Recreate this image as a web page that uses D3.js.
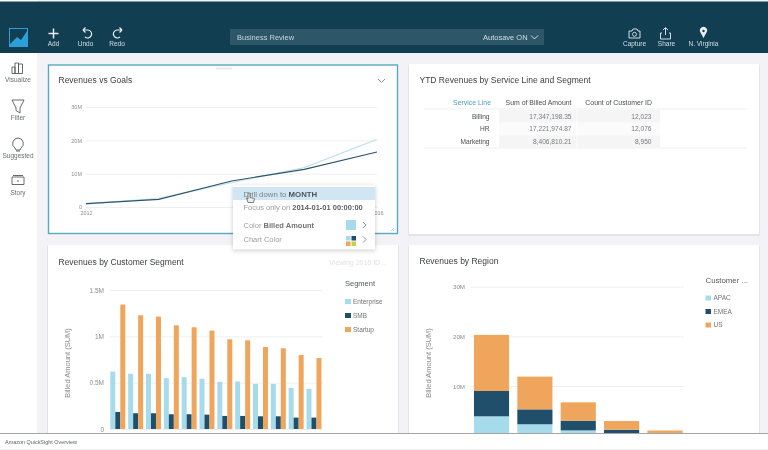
<!DOCTYPE html>
<html>
<head>
<meta charset="utf-8">
<script src="https://d3js.org/d3.v7.min.js"></script>
<style>
  html, body { margin: 0; padding: 0; background: #fff; overflow: hidden; }
  svg { display: block; filter: blur(0.5px); }
  text { font-family: "Liberation Sans", Arial, sans-serif; }
  .domain { display: none; }
</style>
</head>
<body>
<svg id="canvas" width="768" height="450"></svg>
<script>

/**
 * Data
 */

var lineYears = [2012, 2013, 2014, 2015, 2016];
var billedAmount = [1.0, 2.3, 7.8, 11.3, 16.5];
var goalAmount = [0.9, 2.6, 7.3, 11.8, 20.3];

var segmentMonths = ['Jan', 'Feb', 'Mar', 'Apr', 'May', 'Jun', 'Jul', 'Aug', 'Sep', 'Oct', 'Nov', 'Dec'];
var segmentNames = ['Enterprise', 'SMB', 'Startup'];
var enterpriseValues = [0.62, 0.596, 0.596, 0.549, 0.56, 0.542, 0.509, 0.513, 0.487, 0.487, 0.444, 0.433];
var smbValues = [0.184, 0.17, 0.17, 0.159, 0.159, 0.155, 0.141, 0.141, 0.137, 0.137, 0.123, 0.123];
var startupValues = [1.343, 1.227, 1.213, 1.119, 1.098, 1.062, 0.968, 0.957, 0.885, 0.871, 0.798, 0.766];

var regionBars = ['A', 'B', 'C', 'D', 'E'];
var regionNames = ['APAC', 'EMEA', 'US'];
var apacValues = [3.9, 2.3, 1.07, 0.3, 0.05];
var emeaValues = [5.1, 3.0, 1.95, 0.9, 0.1];
var usValues = [11.3, 6.6, 3.7, 1.75, 0.9];

var tableHeader = ['Service Line', 'Sum of Billed Amount', 'Count of Customer ID'];
var serviceLines = ['Billing', 'HR', 'Marketing'];
var billedSums = ['17,347,198.35', '17,221,974.87', '8,406,810.21'];
var customerCounts = ['12,023', '12,076', '8,950'];

var LIGHT = '#a6dbec', DARK = '#1f4f6b', ORANGE = '#f0a55c';
var INK = '#3c4043', GREY = '#8a8d90';

var svg = d3.select('#canvas');

function label(parent, x, y, str, size, color, anchor, weight) {
  return parent.append('text')
    .attr('x', x).attr('y', y)
    .attr('font-size', size)
    .attr('fill', color)
    .attr('text-anchor', anchor || 'start')
    .attr('font-weight', weight || 'normal')
    .text(str);
}

function panel(x, y, w, h) {
  svg.append('rect').attr('x', x - 1).attr('y', y + 1).attr('width', w + 2).attr('height', h + 1).attr('fill', '#e3e4e8');
  svg.append('rect').attr('x', x).attr('y', y).attr('width', w).attr('height', h).attr('fill', '#fff');
}

// y axis with only the faint gridlines and the labels
function gridAxis(g, scale, x0, x1, values, fmt, size, pad) {
  var axis = d3.axisLeft(scale).tickValues(values).tickFormat(fmt).tickSize(x0 - x1).tickPadding(pad);
  var a = g.append('g').attr('transform', 'translate(' + x0 + ',0)').call(axis);
  a.selectAll('line').attr('stroke', '#eeeff1');
  a.selectAll('text').attr('font-size', size).attr('fill', GREY).attr('font-family', '"Liberation Sans", Arial, sans-serif');
  return a;
}

/* page background and chrome */

svg.append('rect').attr('width', 768).attr('height', 450).attr('fill', '#f3f3f7');
svg.append('rect').attr('width', 37).attr('height', 450).attr('fill', '#fff');
svg.append('rect').attr('width', 768).attr('height', 51.5).attr('y', 1.5).attr('fill', '#123e52');

// logo
svg.append('rect').attr('x', 9).attr('y', 28).attr('width', 19).attr('height', 19).attr('fill', '#2b9fd8');
svg.append('path').attr('d', 'M10 44L17 37L21 40L27 31V29H10Z').attr('fill', '#123e52');

var topBar = svg.append('g');
function icon(d) {
  return topBar.append('path').attr('d', d).attr('fill', 'none').attr('stroke', '#e8eef1').attr('stroke-width', 1.2);
}
icon('M53.5 28.5V38.5M48.5 33.5H58.5').attr('stroke-width', 1.5);
icon('M83 30H88A4 4 0 1 1 85 37M83 30L85.5 27.5M83 30L85.5 32.5');
icon('M122 30H117A4 4 0 1 0 120 37M122 30L119.5 27.5M122 30L119.5 32.5');
icon('M629 31H632L633 29H637L638 31H640V38H629Z').attr('stroke-width', 0.9);
topBar.append('circle').attr('cx', 634.5).attr('cy', 34.3).attr('r', 2).attr('fill', 'none').attr('stroke', '#e8eef1').attr('stroke-width', 0.8);
icon('M662 33H660.5V39H670.5V33H669M665.5 35V28M663 30L665.5 27.5L668 30').attr('stroke-width', 0.9);
topBar.append('path').attr('d', 'M703.5 38L700.5 32.5A3.6 3.6 0 1 1 706.5 32.5Z').attr('fill', '#e8eef1');
topBar.append('circle').attr('cx', 703.5).attr('cy', 31).attr('r', 1.2).attr('fill', '#123e52');

[[53.5, 'Add'], [85.5, 'Undo'], [117, 'Redo'], [634.5, 'Capture'], [666.5, 'Share'], [703.5, 'N. Virginia']].forEach(function (d) {
  label(topBar, d[0], 46, d[1], 6.5, '#d5dfe4', 'middle');
});

topBar.append('rect').attr('x', 230).attr('y', 29).attr('width', 314).attr('height', 16).attr('fill', '#2d5668');
label(topBar, 237, 40, 'Business Review', 7.5, '#c9d5db');
label(topBar, 483, 40, 'Autosave ON', 7.5, '#d5dfe4');
icon('M531 35.5L534.5 39L538 35.5').attr('stroke-width', 0.9);

// side menu
var side = svg.append('g');
function sideIcon(d) {
  return side.append('path').attr('d', d).attr('fill', 'none').attr('stroke', '#55595c').attr('stroke-width', 0.9);
}
sideIcon('M12 73.5H15V67H12ZM15 73.5H18.5V63H15ZM18.5 73.5H22.5V64H18.5Z');
sideIcon('M12 100H24L20 108V113L16 110.5V108Z');
sideIcon('M18 138A5.5 5.5 0 0 1 21 148L20 150H16L15 148A5.5 5.5 0 0 1 18 138ZM16 151H20');
sideIcon('M12 177H24V184.5H12ZM13 175.5H23');
side.append('circle').attr('cx', 18).attr('cy', 181).attr('r', 0.8).attr('fill', '#55595c');
[[18, 82, 'Visualize'], [18, 120, 'Filter'], [18, 157.5, 'Suggested'], [18, 195, 'Story']].forEach(function (d) {
  label(side, d[0], d[1], d[2], 6.5, '#6a6e71', 'middle');
});

/* panels */

panel(409, 64, 350, 170);
panel(48, 245, 350, 200);
panel(409, 245, 350, 200);

svg.append('rect').attr('x', 48.5).attr('y', 65).attr('width', 349).attr('height', 168.5)
  .attr('fill', '#fff').attr('stroke', '#58a9c4').attr('stroke-width', 1.4);
svg.append('rect').attr('x', 216).attr('y', 67.5).attr('width', 16).attr('height', 2).attr('fill', '#e6e8ea');

label(svg, 58.5, 83, 'Revenues vs Goals', 8.5, INK);
label(svg, 419.5, 83, 'YTD Revenues by Service Line and Segment', 8.5, INK);
label(svg, 58.5, 265, 'Revenues by Customer Segment', 8.5, INK);
label(svg, 419.5, 263.5, 'Revenues by Region', 8.5, INK);
label(svg, 386, 264.5, 'Viewing 2016 ID...', 7, '#dfe1e3', 'end');
svg.append('path').attr('d', 'M378 79L381.5 82.5L385 79').attr('fill', 'none').attr('stroke', '#8a8d90');

/* Revenues vs Goals */

var lineG = svg.append('g');
var xLine = d3.scaleLinear().domain([2012, 2016]).range([86, 377]);
var yLine = d3.scaleLinear().domain([0, 30]).range([207, 107]);

gridAxis(lineG, yLine, 377, 86, [0, 10, 20, 30], function (d) { return d ? d + 'M' : '0'; }, 5.5, 4);

var xLineAxis = lineG.append('g').attr('transform', 'translate(0,207)')
  .call(d3.axisBottom(xLine).tickValues([2012, 2016]).tickFormat(d3.format('d')).tickSize(0).tickPadding(4));
xLineAxis.selectAll('text').attr('font-size', 5.5).attr('fill', GREY).attr('font-family', '"Liberation Sans", Arial, sans-serif');

var pathLine = d3.line()
  .x(function (d, i) { return xLine(lineYears[i]); })
  .y(function (d) { return yLine(d); });

lineG.append('path').attr('d', pathLine(goalAmount)).attr('fill', 'none').attr('stroke', '#c5e3ea').attr('stroke-width', 1.3);
lineG.append('path').attr('d', pathLine(billedAmount)).attr('fill', 'none').attr('stroke', '#2c566c').attr('stroke-width', 1.2);

svg.append('path').attr('d', 'M391 231L394 228M393 231L394 230').attr('stroke', '#9fc4d2').attr('stroke-width', 0.7);

/* YTD table */

var tableG = svg.append('g');
[109, 148].forEach(function (y) {
  tableG.append('line').attr('x1', 424).attr('x2', 747).attr('y1', y).attr('y2', y).attr('stroke', '#eeeff1');
});
var rowBands = d3.scaleBand().domain(serviceLines).range([110, 148]);
serviceLines.forEach(function (s, i) {
  tableG.append('rect').attr('x', 499).attr('y', rowBands(s)).attr('width', 161).attr('height', rowBands.bandwidth())
    .attr('fill', i === 1 ? '#fbfbfb' : '#f5f5f6');
});
tableG.append('line').attr('x1', 577).attr('x2', 577).attr('y1', 110).attr('y2', 148).attr('stroke', '#fff');

var tableX = [491, 571.5, 652];
tableHeader.forEach(function (h, i) {
  label(tableG, tableX[i], 105, h, 6.9, i ? '#4a4e51' : '#4a9fc9', 'end');
});
var rowY = d3.scalePoint().domain(serviceLines).range([118.5, 144]);
serviceLines.forEach(function (s, i) {
  label(tableG, 489.5, rowY(s), s, 6.6, '#4a4e51', 'end');
  label(tableG, 571.5, rowY(s), billedSums[i], 6.6, '#77797c', 'end');
  label(tableG, 651.5, rowY(s), customerCounts[i], 6.6, '#77797c', 'end');
});

/* Revenues by Customer Segment */

var segG = svg.append('g');
var ySeg = d3.scaleLinear().domain([0, 1.5]).range([429, 290]);
gridAxis(segG, ySeg, 323, 110, [0, 0.5, 1, 1.5], function (d) { return d ? d + 'M' : '0'; }, 6.5, 6);

var xSeg = d3.scaleBand().domain(segmentMonths).range([108.9, 322.9]).paddingInner(0.16).paddingOuter(0.08);
var xSegInner = d3.scaleBand().domain(segmentNames).range([0, xSeg.bandwidth()]);
var segColor = d3.scaleOrdinal().domain(segmentNames).range([LIGHT, DARK, ORANGE]);
var segValues = { Enterprise: enterpriseValues, SMB: smbValues, Startup: startupValues };

segmentNames.forEach(function (name) {
  segG.selectAll('rect.' + name)
    .data(segValues[name])
    .enter().append('rect')
    .attr('class', name)
    .attr('x', function (d, i) { return xSeg(segmentMonths[i]) + xSegInner(name); })
    .attr('width', xSegInner.bandwidth())
    .attr('y', function (d) { return ySeg(d); })
    .attr('height', function (d) { return ySeg(0) - ySeg(d); })
    .attr('fill', segColor(name));
});

label(segG, 0, 0, 'Billed Amount (SUM)', 7.5, GREY, 'middle')
  .attr('transform', 'translate(70,363) rotate(-90)');

label(segG, 345, 286, 'Segment', 7.5, '#55595c');
segmentNames.forEach(function (name, i) {
  var y = 301.5 + i * 14;
  segG.append('rect').attr('x', 345).attr('y', y - 2.5).attr('width', 6).attr('height', 5).attr('fill', segColor(name));
  label(segG, 353, y + 2.3, name, 6.5, '#6f7275');
});

/* Revenues by Region */

var regG = svg.append('g');
var yReg = d3.scaleLinear().domain([0, 30]).range([435.7, 286.7]);
gridAxis(regG, yReg, 684, 470, [10, 20, 30], function (d) { return d + 'M'; }, 6.2, 5);

var xReg = d3.scaleBand().domain(regionBars).range([468.5, 688]).paddingInner(0.19).paddingOuter(0.126);
var regColor = d3.scaleOrdinal().domain(regionNames).range([LIGHT, DARK, ORANGE]);

var regRows = regionBars.map(function (b, i) {
  return { bar: b, APAC: apacValues[i], EMEA: emeaValues[i], US: usValues[i] };
});
var regStack = d3.stack().keys(regionNames)(regRows);

regStack.forEach(function (layer) {
  regG.selectAll('rect.' + layer.key)
    .data(layer)
    .enter().append('rect')
    .attr('class', layer.key)
    .attr('x', function (d) { return xReg(d.data.bar); })
    .attr('width', xReg.bandwidth())
    .attr('y', function (d) { return yReg(d[1]); })
    .attr('height', function (d) { return yReg(d[0]) - yReg(d[1]); })
    .attr('fill', regColor(layer.key));
});

label(regG, 0, 0, 'Billed Amount (SUM)', 7.5, GREY, 'middle')
  .attr('transform', 'translate(431,363) rotate(-90)');

label(regG, 705.5, 283, 'Customer ...', 7.8, '#55595c');
regionNames.forEach(function (name, i) {
  var y = 298 + i * 13.5;
  regG.append('rect').attr('x', 705.5).attr('y', y - 2.5).attr('width', 5.5).attr('height', 5).attr('fill', regColor(name));
  label(regG, 713.5, y + 2.3, name, 6.5, '#6f7275');
});

/* context menu over the line chart */

var menu = svg.append('g');
menu.append('rect').attr('x', 233).attr('y', 185).attr('width', 142).attr('height', 64.5).attr('fill', '#fff')
  .style('filter', 'drop-shadow(0 1px 2px rgba(0,0,0,0.22))');
menu.append('rect').attr('x', 233).attr('y', 187).attr('width', 142).attr('height', 13).attr('fill', '#d0e7f3');

var drill = label(menu, 243.5, 197, 'Drill down to ', 7.8, '#7d8184');
drill.append('tspan').attr('font-weight', 'bold').attr('fill', '#4f5356').text('MONTH');
var focus = label(menu, 243.5, 210, 'Focus only on ', 7.5, '#9a9da0');
focus.append('tspan').attr('font-weight', 'bold').attr('fill', '#5b5f62').text('2014-01-01 00:00:00');
var colorRow = label(menu, 243.5, 227.5, 'Color ', 7.5, '#9a9da0');
colorRow.append('tspan').attr('font-weight', 'bold').attr('fill', '#6f7275').text('Billed Amount');
label(menu, 243.5, 242, 'Chart Color', 7.5, '#9a9da0');

menu.append('rect').attr('x', 346).attr('y', 220).attr('width', 10).attr('height', 10).attr('fill', LIGHT);
[[346, 236, LIGHT], [351.5, 236, DARK], [346, 241.5, ORANGE], [351.5, 241.5, '#c8cf4e']].forEach(function (d) {
  menu.append('rect').attr('x', d[0]).attr('y', d[1]).attr('width', 4.5).attr('height', 4.5).attr('fill', d[2]);
});
[225, 239.5].forEach(function (y) {
  menu.append('path').attr('d', 'M363 ' + (y - 3) + 'L366 ' + y + 'L363 ' + (y + 3)).attr('fill', 'none').attr('stroke', '#8a8d90');
});

// hand cursor
menu.append('path').attr('d', 'M248 193V199L246.5 198L248 202.5H253.5L254.5 198.5L250 197.5V193Z')
  .attr('fill', '#e8edf0').attr('stroke', '#5d6568').attr('stroke-width', 0.8);

/* video caption strip */

svg.append('rect').attr('y', 433).attr('width', 768).attr('height', 17).attr('fill', '#fff');
svg.append('line').attr('x1', 0).attr('x2', 768).attr('y1', 433.5).attr('y2', 433.5).attr('stroke', '#8b8e90').attr('stroke-width', 0.8);
svg.append('rect').attr('y', 449).attr('width', 768).attr('height', 1).attr('fill', '#f1f1f3');
label(svg, 5, 443.5, 'Amazon QuickSight Overview', 5.45, '#5f6366');

</script>
</body>
</html>
